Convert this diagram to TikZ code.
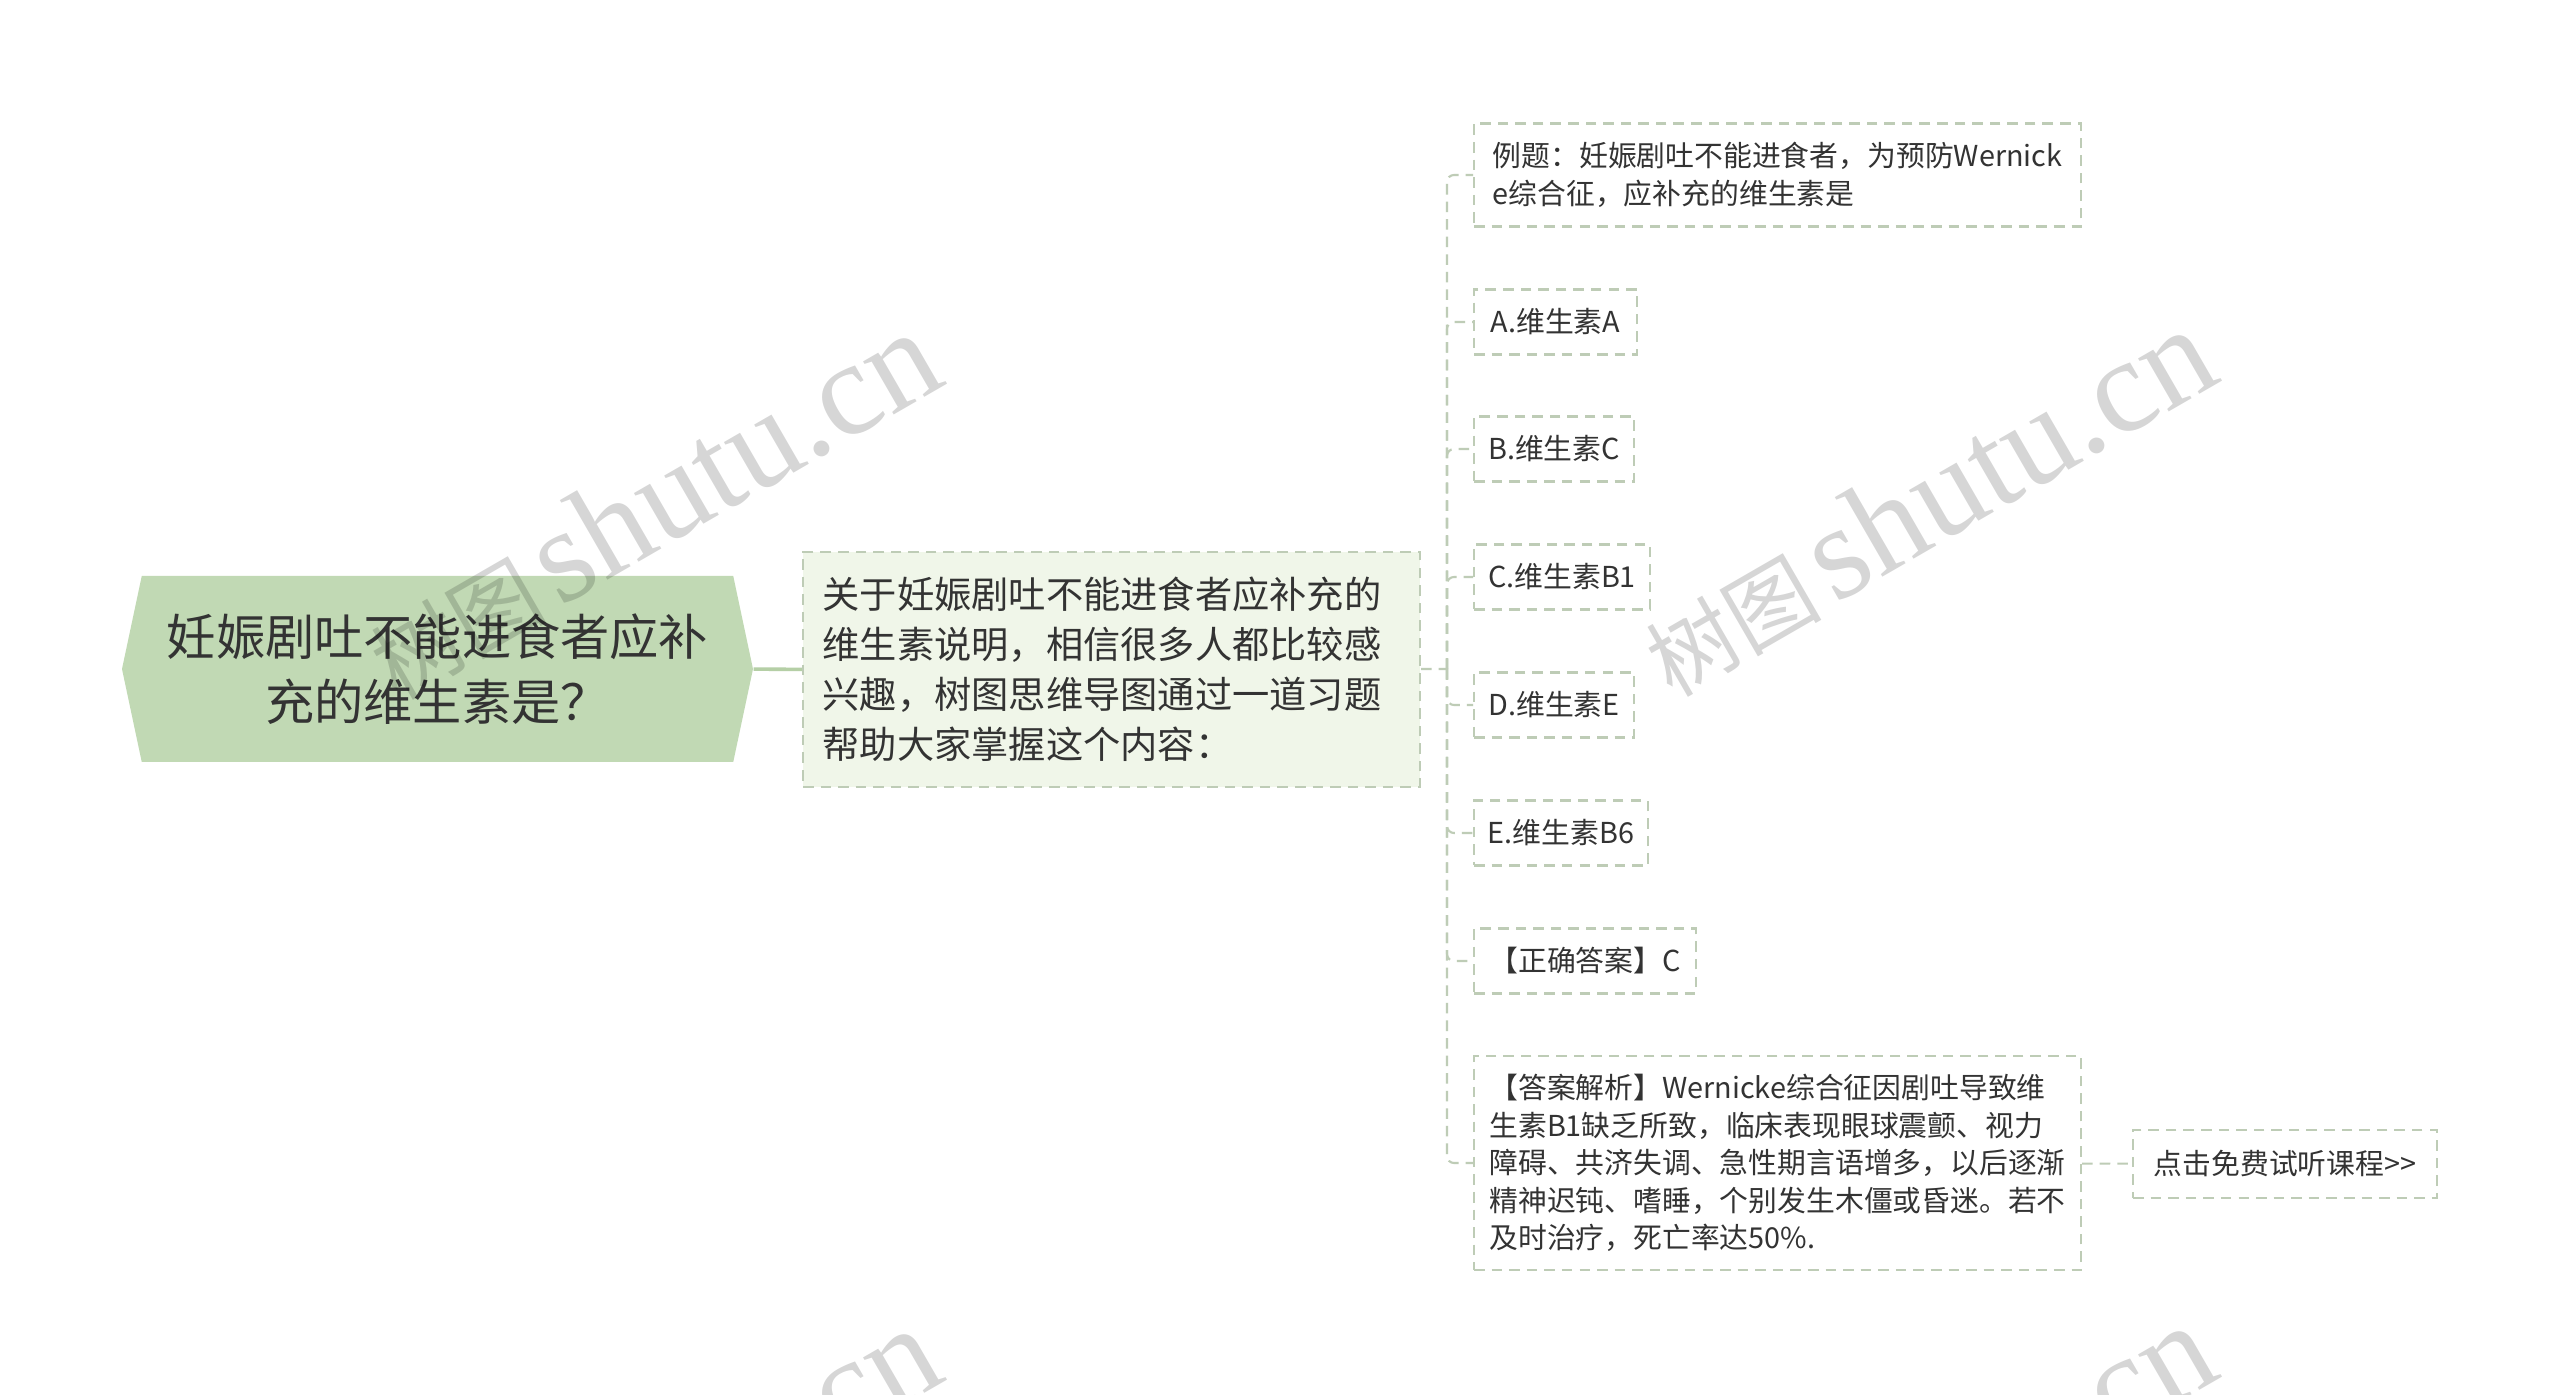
\documentclass[tikz,border=0pt]{standalone}
\usepackage{fontspec}
\setmainfont{Noto Sans CJK SC}
\newfontfamily\wmfont{Liberation Serif}
\usetikzlibrary{shapes.symbols}
\definecolor{rootgreen}{RGB}{193,217,180}
\definecolor{linegreen}{RGB}{181,207,166}
\definecolor{boxline}{RGB}{190,204,182}
\definecolor{midfill}{RGB}{240,246,233}
\definecolor{ink}{RGB}{51,51,51}
\tikzset{
  rootnode/.style={shape=signal, signal to=west and east, signal pointer angle=156,
    fill=rootgreen, text=ink, align=center, minimum width=6.31cm,
    minimum height=1.86cm, inner sep=0pt, font=\fontsize{14}{18.5}\selectfont},
  midbox/.style={draw=boxline, line width=0.6pt, dash pattern=on 3pt off 2pt,
    fill=midfill, text=ink, align=left, text width=5.78cm, inner xsep=0.195cm,
    inner ysep=0pt, minimum height=2.35cm, font=\fontsize{10.6}{14.2}\selectfont},
  leaf/.style={draw=boxline, line width=0.6pt, dash pattern=on 3pt off 2pt,
    fill=white, text=ink, align=left, anchor=west, minimum height=0.65cm,
    inner sep=0pt, font=\fontsize{8.2}{10.7}\selectfont},
  link/.style={draw=boxline, line width=0.6pt, dash pattern=on 3pt off 2pt},
  wmark/.style={rotate=30, text=black, text opacity=0.16, inner sep=0pt}
}
\newcommand{\wmtext}{{\fontsize{25}{25}\selectfont 树图}\hspace{0.12cm}{\wmfont\fontsize{38}{38}\selectfont shutu.cn}}
\begin{document}
\begin{tikzpicture}
  \fill[white] (0,0) rectangle (25.6,-13.95);
  \useasboundingbox (0,0) rectangle (25.6,-13.95);
  \draw
    (4.375,-6.69) node[rootnode] (root){妊娠剧吐不能进食者应补\\充的维生素是？}
    (11.115,-6.695) node[midbox] (mid){关于妊娠剧吐不能进食者应补充的\\维生素说明，相信很多人都比较感\\兴趣，树图思维导图通过一道习题\\帮助大家掌握这个内容：}
    (14.73,-1.75) node[leaf, minimum width=6.07cm, minimum height=1.03cm] (q){例题：妊娠剧吐不能进食者，为预防Wernick\\e综合征，应补充的维生素是}
    (14.73,-3.22) node[leaf, minimum width=1.63cm] (a){A.维生素A}
    (14.73,-4.49) node[leaf, minimum width=1.60cm] (b){B.维生素C}
    (14.73,-5.77) node[leaf, minimum width=1.76cm] (c){C.维生素B1}
    (14.73,-7.05) node[leaf, minimum width=1.60cm] (d){D.维生素E}
    (14.73,-8.33) node[leaf, minimum width=1.74cm] (e){E.维生素B6}
    (14.73,-9.61) node[leaf, minimum width=2.22cm] (key){【正确答案】C}
    (14.73,-11.63) node[leaf, minimum width=6.07cm, minimum height=2.14cm] (ana){【答案解析】Wernicke综合征因剧吐导致维\\生素B1缺乏所致，临床表现眼球震颤、视力\\障碍、共济失调、急性期言语增多，以后逐渐\\精神迟钝、嗜睡，个别发生木僵或昏迷。若不\\及时治疗，死亡率达50\%.}
    (21.32,-11.64) node[leaf, minimum width=3.04cm, minimum height=0.68cm] (try){点击免费试听课程>{}>};
  \coordinate (fork) at (14.47,-6.69);
  \draw[linegreen, line width=1pt] (root) to (mid);
  \begin{scope}[link, rounded corners=2pt]
    \draw (mid) to (fork);
    \draw (fork) |- (q);
    \draw (fork) |- (a);
    \draw (fork) |- (b);
    \draw (fork) |- (c);
    \draw (fork) |- (d);
    \draw (fork) |- (e);
    \draw (fork) |- (key);
    \draw (fork) |- (ana);
    \draw (ana) to (try);
  \end{scope}
  \begin{scope}
    \clip (0,0) rectangle (25.6,-13.95);
    \node[wmark] (wm1) at (6.52,-5.05) {\wmtext};
    \node[wmark] (wm2) at (19.27,-5.02) {\wmtext};
    \node[wmark] (wm3) at (6.52,-15.01) {\wmtext};
    \node[wmark] (wm4) at (19.27,-14.98) {\wmtext};
  \end{scope}
\end{tikzpicture}
\end{document}
